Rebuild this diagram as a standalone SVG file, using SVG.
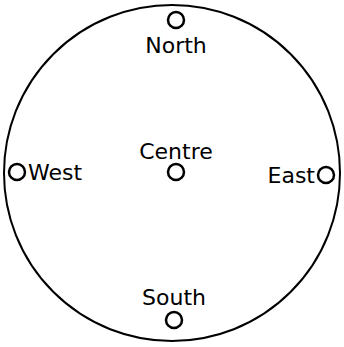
<svg xmlns="http://www.w3.org/2000/svg" width="344" height="347" viewBox="0 0 344 347">
<style>
.bg{fill:#fff}
.outer{fill:none;stroke:#000;stroke-width:2}
.pt{fill:#fff;stroke:#000;stroke-width:2.5}
text{font-family:"DejaVu Sans",sans-serif;font-size:22px;fill:#000}
</style>
<rect class="bg" x="0" y="0" width="344" height="347"/>
<g id="boundary"><circle class="outer" cx="172" cy="173" r="168"/></g>
<g id="connectors"></g>
<g id="north"><circle class="pt" cx="176" cy="20" r="8"/><text x="176" y="53" text-anchor="middle">North</text></g>
<g id="west"><circle class="pt" cx="17" cy="172" r="8"/><text x="28" y="180">West</text></g>
<g id="east"><circle class="pt" cx="326" cy="175" r="8"/><text x="315" y="183" text-anchor="end">East</text></g>
<g id="south"><circle class="pt" cx="174" cy="320" r="8"/><text x="174" y="305" text-anchor="middle">South</text></g>
<g id="centre"><circle class="pt" cx="176" cy="172" r="8"/><text x="176" y="159" text-anchor="middle">Centre</text></g>
</svg>
